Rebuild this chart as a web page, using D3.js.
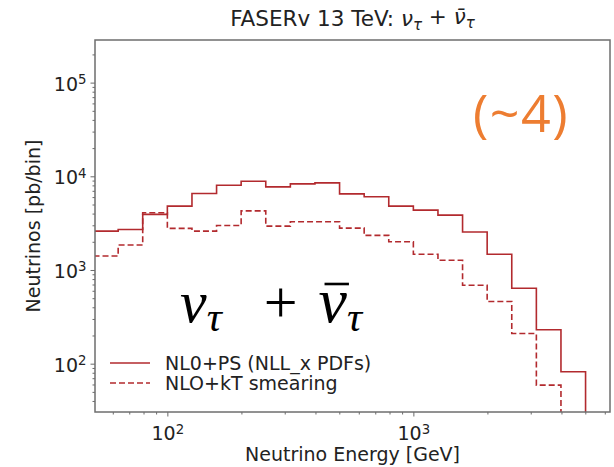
<!DOCTYPE html>
<html>
<head>
<meta charset="utf-8">
<script src="https://cdn.jsdelivr.net/npm/d3@7"></script>
<style>
  html, body { margin: 0; padding: 0; background: #fff; }
  svg { display: block; }
</style>
</head>
<body>
<svg id="chart" width="614" height="467"></svg>
<script>
// ---- data ----
const binEdges = [50.1, 63.1, 79.4, 100, 125.9, 158.5, 199.5, 251.2, 316.2, 398.1, 501.2,
                  631.0, 794.3, 1000, 1258.9, 1584.9, 1995.3, 2511.9, 3162.3, 3981.1, 5011.9];
const nloPS = [2600, 2710, 3920, 4800, 6550, 8020, 8850, 7710, 8300, 8500,
               6500, 6040, 4800, 4350, 3850, 2540, 1470, 638, 230, 82];
const nloKt = [1410, 1845, 4080, 2780, 2600, 2990, 4280, 2940, 3270, 3270,
               2800, 2340, 2000, 1470, 1270, 687, 461, 210, 59, 10];
const seriesNames = ["NL0+PS (NLL_x PDFs)", "NLO+kT smearing"];
const xMajorTicks = [100, 1000];
const yMajorTicks = [100, 1000, 10000, 100000];

// ---- layout ----
const W = 614, H = 467;
const margin = {left: 95, top: 40, right: 4, bottom: 55};
const pw = W - margin.left - margin.right;
const ph = H - margin.top - margin.bottom;
const red = "#b22a2e";
const font = "'DejaVu Sans', sans-serif";
const fs = 19;

const svg = d3.select("#chart");
const g = svg.append("g").attr("transform", `translate(${margin.left},${margin.top})`);

const x = d3.scaleLog().domain([50.8, 6300]).range([0, pw]);
const y = d3.scaleLog().domain([30.5, 285000]).range([ph, 0]);

g.append("clipPath").attr("id", "clip")
  .append("rect").attr("width", pw).attr("height", ph);

function minors(lo, hi) {
  const out = [];
  for (let e = Math.floor(Math.log10(lo)); e <= Math.ceil(Math.log10(hi)); e++) {
    for (let m = 2; m <= 9; m++) {
      const v = m * Math.pow(10, e);
      if (v >= lo && v <= hi) out.push(v);
    }
  }
  return out;
}

function supLabels(sel) {
  sel.selectAll(".tick text").each(function(d) {
    const t = d3.select(this);
    t.text(null);
    t.append("tspan").text("10");
    t.append("tspan").attr("dy", "-0.5em").attr("font-size", "0.7em").text(Math.round(Math.log10(d)));
  });
}

const tickColor = "#444";

const xMinor = g.append("g").attr("transform", `translate(0,${ph})`)
  .call(d3.axisBottom(x).tickValues(minors(50.8, 6300)).tickSize(2.5).tickFormat(""));
const xMajor = g.append("g").attr("transform", `translate(0,${ph})`)
  .call(d3.axisBottom(x).tickValues(xMajorTicks).tickSize(4.5).tickPadding(4));
const yMinor = g.append("g")
  .call(d3.axisLeft(y).tickValues(minors(30.5, 285000)).tickSize(2.5).tickFormat(""));
const yMajor = g.append("g")
  .call(d3.axisLeft(y).tickValues(yMajorTicks).tickSize(4.5).tickPadding(4));

[xMinor, xMajor, yMinor, yMajor].forEach(a => {
  a.select(".domain").remove();
  a.selectAll(".tick line").attr("stroke", tickColor).attr("stroke-width", 0.8);
  a.selectAll("text").attr("font-family", font).attr("font-size", fs).attr("fill", "#222");
});
supLabels(xMajor);
supLabels(yMajor);
xMajor.selectAll(".tick text").attr("dy", "1.05em");
yMajor.selectAll(".tick text").attr("dy", "0.4em");

// step lines
function stepPoints(vals) {
  const pts = vals.map((v, i) => [binEdges[i], v]);
  pts.push([binEdges[binEdges.length - 1], vals[vals.length - 1]]);
  pts.push([binEdges[binEdges.length - 1], y.domain()[0] / 2]);
  return pts;
}
const line = d3.line().x(d => x(d[0])).y(d => y(d[1])).curve(d3.curveStepAfter);

const plot = g.append("g").attr("clip-path", "url(#clip)");
plot.append("path").datum(stepPoints(nloPS))
  .attr("d", line).attr("fill", "none").attr("stroke", red).attr("stroke-width", 1.6);
plot.append("path").datum(stepPoints(nloKt))
  .attr("d", line).attr("fill", "none").attr("stroke", red).attr("stroke-width", 1.6)
  .attr("stroke-dasharray", "6,3");

// frame
g.append("rect").attr("width", pw).attr("height", ph)
  .attr("fill", "none").attr("stroke", "#6e6e6e").attr("stroke-width", 1.5);

// title
const title = svg.append("text").attr("x", margin.left + pw / 2).attr("y", 26)
  .attr("text-anchor", "middle").attr("font-family", font).attr("font-size", 21.5).attr("fill", "#222");
title.append("tspan").text("FASERv 13 TeV: ");
title.append("tspan").attr("font-style", "italic").text("ν");
title.append("tspan").attr("font-style", "italic").attr("font-size", "0.7em").attr("dy", "0.25em").text("τ");
title.append("tspan").attr("dy", "-0.25em").text(" + ");
title.append("tspan").attr("font-style", "italic").text("ν\u0304");
title.append("tspan").attr("font-style", "italic").attr("font-size", "0.7em").attr("dy", "0.25em").text("τ");

// axis labels
svg.append("text").attr("x", margin.left + pw / 2).attr("y", 461)
  .attr("text-anchor", "middle").attr("font-family", font).attr("font-size", fs).attr("fill", "#222")
  .text("Neutrino Energy [GeV]");
svg.append("text").attr("transform", `translate(40,${margin.top + ph / 2}) rotate(-90)`)
  .attr("text-anchor", "middle").attr("font-family", font).attr("font-size", fs).attr("fill", "#222")
  .text("Neutrinos [pb/bin]");

// legend
const legend = g.append("g").attr("transform", "translate(15,323)");
seriesNames.forEach((name, i) => {
  const row = legend.append("g").attr("transform", `translate(0,${i * 20})`);
  row.append("line").attr("x1", 0).attr("x2", 40).attr("stroke", red).attr("stroke-width", 1.6)
    .attr("stroke-dasharray", i === 1 ? "6,3" : null);
  row.append("text").attr("x", 55).attr("dy", "0.35em").attr("font-family", font)
    .attr("font-size", fs).attr("fill", "#222").text(name);
});

// big annotation
const ann = svg.append("text").attr("x", 180).attr("y", 322)
  .attr("font-family", "'Liberation Serif', serif").attr("font-size", 60).attr("fill", "#000");
ann.append("tspan").attr("font-style", "italic").text("ν");
ann.append("tspan").attr("font-style", "italic").attr("font-size", 42).attr("dy", 9).text("τ");
ann.append("tspan").attr("dy", -9).attr("dx", 42).text("+");
const nuBar = ann.append("tspan").attr("font-style", "italic").attr("dx", 21).attr("font-size", 64).text("ν");
ann.append("tspan").attr("font-style", "italic").attr("font-size", 42).attr("dy", 9).text("τ");
{
  const node = nuBar.node();
  const s = node.getStartPositionOfChar(0);
  const e = node.getEndPositionOfChar(0);
  svg.append("line")
    .attr("x1", s.x + 6).attr("x2", e.x + 2)
    .attr("y1", s.y - 38).attr("y2", s.y - 38)
    .attr("stroke", "#000").attr("stroke-width", 2.6);
}

// orange note
svg.append("text").attr("x", 521).attr("y", 132).attr("text-anchor", "middle")
  .attr("font-family", "'Open Sans', sans-serif").attr("font-size", 52).attr("letter-spacing", 1.5)
  .attr("fill", "#ED7D31")
  .text("(~4)");
</script>
</body>
</html>
